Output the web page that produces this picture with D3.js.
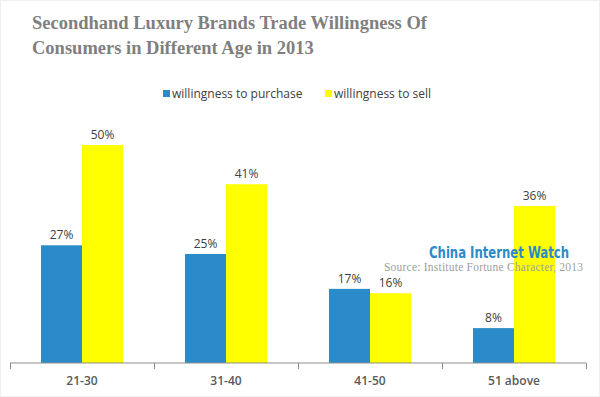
<!DOCTYPE html>
<html><head><meta charset="utf-8">
<script src="https://cdn.jsdelivr.net/npm/d3@7/dist/d3.min.js"></script>
<style>body{margin:0;background:#fff}svg{display:block}</style>
</head><body>
<svg id="c" width="600" height="397"></svg>
<script>
const categories = ["21-30", "31-40", "41-50", "51 above"];
const seriesNames = ["willingness to purchase", "willingness to sell"];
const purchase = [27, 25, 17, 8];
const sell = [50, 41, 16, 36];
const colors = ["#2b8bc8", "#ffff00"];

const svg = d3.select("#c");
svg.append("rect").attr("x",0.5).attr("y",0.5).attr("width",599).attr("height",396)
  .attr("fill","none").attr("stroke","#f0f0f0");

const x = d3.scaleBand().domain(categories).range([10, 586]).paddingInner(0).paddingOuter(0);
const x1 = d3.scaleBand().domain(seriesNames).range([0, x.bandwidth()]).paddingInner(0).paddingOuter(0.756);
const y = d3.scaleLinear().domain([0, 50]).range([363, 145]);

// title
const title = svg.append("text").attr("font-family", "'Liberation Serif', serif")
  .attr("font-weight", "bold").attr("font-size", 18.5).attr("fill", "#7f7f7f");
title.append("tspan").attr("x", 32).attr("y", 29).text("Secondhand Luxury Brands Trade Willingness Of");
title.append("tspan").attr("x", 32).attr("y", 54).text("Consumers in Different Age in 2013");

// legend
const legX = [163, 325];
seriesNames.forEach((s, i) => {
  svg.append("rect").attr("x", legX[i]).attr("y", 90).attr("width", 7).attr("height", 7).attr("fill", colors[i]);
  svg.append("text").attr("x", legX[i] + 9).attr("y", 98).attr("font-family", "'Open Sans', sans-serif")
    .attr("font-size", 12).attr("fill", "#404040").text(s);
});

// bars
const data = [purchase, sell];
data.forEach((vals, si) => {
  const g = svg.append("g");
  g.selectAll("rect").data(categories).join("rect")
    .attr("x", (c) => x(c) + x1(seriesNames[si]))
    .attr("y", (c, i) => y(vals[i]))
    .attr("width", x1.bandwidth())
    .attr("height", (c, i) => y(0) - y(vals[i]))
    .attr("fill", colors[si]);
  g.selectAll("text").data(categories).join("text")
    .attr("x", (c) => x(c) + x1(seriesNames[si]) + x1.bandwidth() / 2)
    .attr("y", (c, i) => y(vals[i]) - 6)
    .attr("text-anchor", "middle").attr("font-family", "'Open Sans', sans-serif")
    .attr("font-size", 12).attr("fill", "#404040")
    .text((c, i) => vals[i] + "%");
});

// axis
const axis = svg.append("g").attr("transform", "translate(0,363)");
axis.append("line").attr("x1", 10).attr("x2", 586).attr("stroke", "#8c8c8c").attr("stroke-width", 1);
const tickXs = categories.map(c => x(c)).concat([x.range()[1]]);
axis.selectAll("line.t").data(tickXs).join("line").attr("class", "t")
  .attr("x1", d => d + 0.5).attr("x2", d => d + 0.5).attr("y1", 0).attr("y2", 6)
  .attr("stroke", "#8c8c8c");
axis.selectAll("text").data(categories).join("text")
  .attr("x", c => x(c) + x.bandwidth() / 2).attr("y", 22)
  .attr("text-anchor", "middle").attr("font-family", "'Open Sans', sans-serif")
  .attr("font-size", 12).attr("font-weight", "600").attr("fill", "#595959").text(c => c);

// watermark
svg.append("text").attr("x", 499).attr("y", 258).attr("text-anchor", "middle")
  .attr("font-family", "'DejaVu Sans Condensed', 'DejaVu Sans', sans-serif").attr("font-weight", "bold")
  .attr("font-size", 15).attr("fill", "#2b8bc8").attr("textLength", 140).attr("lengthAdjust", "spacingAndGlyphs")
  .text("China Internet Watch");
svg.append("text").attr("x", 384).attr("y", 271)
  .attr("font-family", "'Liberation Serif', serif").attr("font-size", 11.5).attr("fill", "#a0a0a0")
  .attr("textLength", 199).attr("lengthAdjust", "spacing")
  .text("Source:  Institute  Fortune  Character, 2013");
</script>
</body></html>
